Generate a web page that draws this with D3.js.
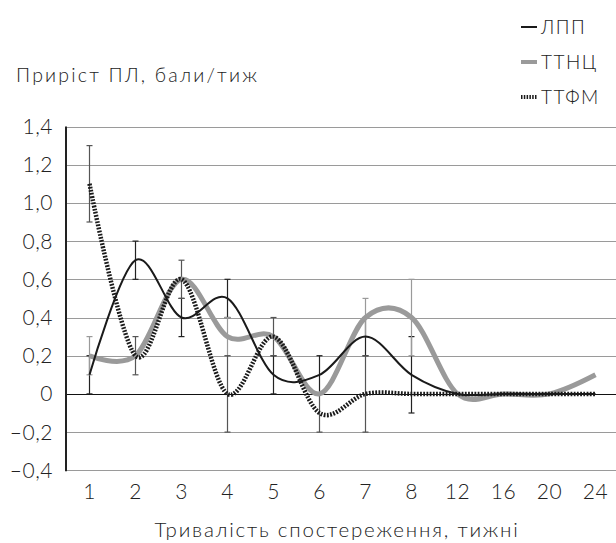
<!DOCTYPE html>
<html>
<head>
<meta charset="utf-8">
<script src="https://cdn.jsdelivr.net/npm/d3@7"></script>
<style>
  body { margin: 0; background: #fff; }
  svg { display: block; font-family: Lato, "Noto Sans", sans-serif; font-weight: 300; }
  text { fill: #222; }
</style>
</head>
<body>
<svg width="616" height="543"></svg>
<script>
// categories = weeks of observation
const weeks = ["1", "2", "3", "4", "5", "6", "7", "8", "12", "16", "20", "24"];

// series values
const lpp  = [0.1, 0.7, 0.4, 0.5, 0.1, 0.1, 0.3, 0.1, 0, 0, 0, 0];
const ttnc = [0.2, 0.2, 0.6, 0.3, 0.3, 0, 0.4, 0.4, 0, 0, 0, 0.1];
const ttfm = [1.1, 0.2, 0.6, 0, 0.3, -0.1, 0, 0, 0, 0, 0, 0];

// error bar half-widths (null = no bar)
const lppErr  = [0.1, 0.1, 0.1, 0.1, 0.1, 0.1, 0.1, 0.2, null, null, null, null];
const ttncErr = [0.1, null, null, 0.1, null, null, 0.1, 0.2, null, null, null, null];
const ttfmErr = [0.2, 0.1, 0.1, 0.2, 0.1, 0.1, 0.2, null, null, null, null, null];

const yTicks = [-0.4, -0.2, 0, 0.2, 0.4, 0.6, 0.8, 1.0, 1.2, 1.4];

const yTitle = "Приріст ПЛ, бали/тиж";
const xTitle = "Тривалість спостереження, тижні";
const legendNames = ["ЛПП", "ТТНЦ", "ТТФМ"];

const svg = d3.select("svg");
const width = +svg.attr("width");

const x = d3.scalePoint()
    .domain(weeks)
    .range([89.5, 595.5]);

const y = d3.scaleLinear()
    .domain([-0.4, 1.4])
    .range([470.3, 126.5]);

const axisX = 66;

const fmt = d => {
  if (Math.abs(d) < 1e-9) return "0";
  const s = d3.format(".1f")(Math.abs(d)).replace(".", ",");
  return d < 0 ? "–" + s : s;
};

// gridlines
svg.append("g")
  .selectAll("line")
  .data(yTicks)
  .join("line")
    .attr("x1", axisX)
    .attr("x2", width)
    .attr("y1", d => Math.round(y(d)) + 0.5)
    .attr("y2", d => Math.round(y(d)) + 0.5)
    .attr("stroke", d => d === 0 ? "#111" : "#9a9a9a")
    .attr("stroke-width", 1.2);

// y axis line
svg.append("line")
  .attr("x1", axisX).attr("x2", axisX)
  .attr("y1", y(1.4)).attr("y2", y(-0.4) + 1)
  .attr("stroke", "#222")
  .attr("stroke-width", 2);

// y tick labels
svg.append("g")
  .selectAll("text")
  .data(yTicks)
  .join("text")
    .attr("x", 53)
    .attr("y", d => y(d))
    .attr("dy", "0.36em")
    .attr("text-anchor", "end")
    .style("font-size", "21px")
    .style("letter-spacing", "0.5px")
    .text(fmt);

// x tick labels
svg.append("g")
  .selectAll("text")
  .data(weeks)
  .join("text")
    .attr("x", d => x(d))
    .attr("y", 499)
    .attr("text-anchor", "middle")
    .style("font-size", "21px")
    .style("letter-spacing", "0.5px")
    .text(d => d);

// titles
svg.append("text")
  .attr("x", 16)
  .attr("y", 82)
  .style("font-size", "19.5px")
  .style("letter-spacing", "2.2px")
  .text(yTitle);

svg.append("text")
  .attr("x", 337)
  .attr("y", 537)
  .attr("text-anchor", "middle")
  .style("font-size", "20.5px")
  .style("letter-spacing", "1.8px")
  .text(xTitle);

// error bars
const errSets = [
  { vals: lpp, err: lppErr, color: "#222" },
  { vals: ttnc, err: ttncErr, color: "#9a9a9a" },
  { vals: ttfm, err: ttfmErr, color: "#555" }
];

const capW = 3;
errSets.forEach(s => {
  const pts = weeks.map((w, i) => ({ w, v: s.vals[i], e: s.err[i] }))
    .filter(p => p.e != null);
  const g = svg.append("g").attr("stroke", s.color).attr("stroke-width", 1.2);
  g.selectAll(".stem").data(pts).join("line")
    .attr("x1", p => x(p.w)).attr("x2", p => x(p.w))
    .attr("y1", p => y(p.v - p.e)).attr("y2", p => y(p.v + p.e));
  g.selectAll(".capT").data(pts).join("line")
    .attr("x1", p => x(p.w) - capW).attr("x2", p => x(p.w) + capW)
    .attr("y1", p => y(p.v + p.e)).attr("y2", p => y(p.v + p.e));
  g.selectAll(".capB").data(pts).join("line")
    .attr("x1", p => x(p.w) - capW).attr("x2", p => x(p.w) + capW)
    .attr("y1", p => y(p.v - p.e)).attr("y2", p => y(p.v - p.e));
});

// lines
const line = d3.line()
  .x((d, i) => x(weeks[i]))
  .y(d => y(d))
  .curve(d3.curveCardinal.tension(0));

svg.append("path")
  .datum(ttnc)
  .attr("d", line)
  .attr("fill", "none")
  .attr("stroke", "#9a9a9a")
  .attr("stroke-width", 5);

svg.append("path")
  .datum(lpp)
  .attr("d", line)
  .attr("fill", "none")
  .attr("stroke", "#1a1a1a")
  .attr("stroke-width", 2);

svg.append("path")
  .datum(ttfm)
  .attr("d", line)
  .attr("fill", "none")
  .attr("stroke", "#1a1a1a")
  .attr("stroke-width", 4.5)
  .attr("stroke-dasharray", "1.8,1.4");

// legend
const legendStyles = [
  { color: "#1a1a1a", w: 2, dash: null },
  { color: "#9a9a9a", w: 4, dash: null },
  { color: "#1a1a1a", w: 4, dash: "1.5,1.3" }
];
const legend = svg.append("g");
legendNames.forEach((name, i) => {
  const ly = 27 + i * 35;
  legend.append("line")
    .attr("x1", 521).attr("x2", 537)
    .attr("y1", ly).attr("y2", ly)
    .attr("stroke", legendStyles[i].color)
    .attr("stroke-width", legendStyles[i].w)
    .attr("stroke-dasharray", legendStyles[i].dash);
  legend.append("text")
    .attr("x", 541)
    .attr("y", ly)
    .attr("dy", "0.36em")
    .style("font-size", "19px")
    .style("letter-spacing", "1.5px")
    .text(name);
});
</script>
</body>
</html>
